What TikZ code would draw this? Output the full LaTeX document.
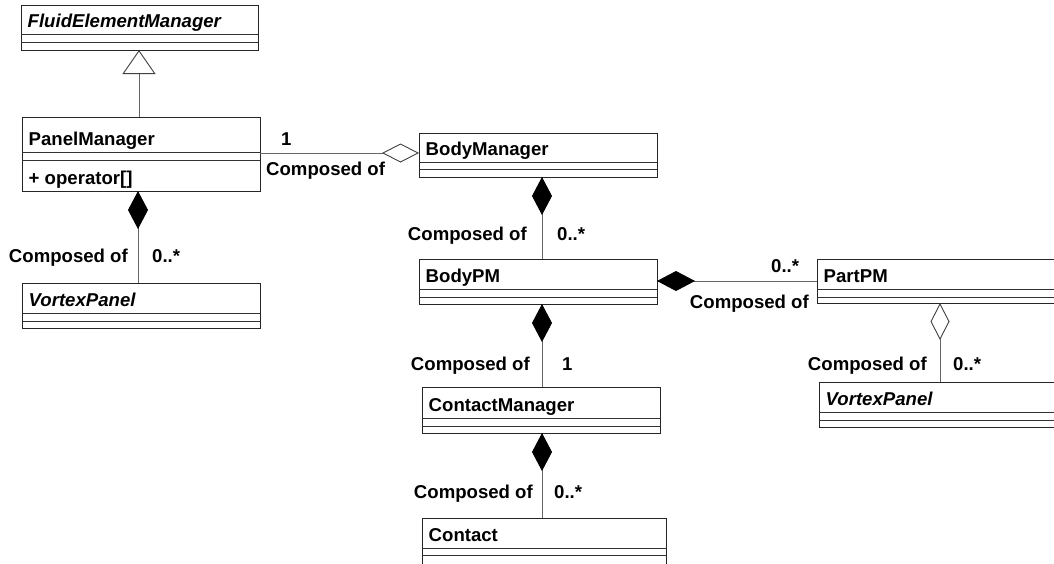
\documentclass[tikz,border=0pt]{standalone}
\usepackage{fontspec}
\setmainfont{Liberation Sans}
\usetikzlibrary{arrows.meta,calc}
\newcommand\umlfont{\fontsize{18.6}{22}\selectfont\bfseries}
% #1 id, #2 x, #3 y, #4 width, #5 shape, #6 name, #7-#9 compartment heights
\newcommand\umlclass[9]{%
  \node[classbox, minimum width=#4pt, minimum height=#7pt+#8pt+#9pt] (#1) at (#2,#3) {};
  \draw[classline] ($(#1.north west)+(0,#7)$) -- ++(#4,0);
  \draw[classline] ($(#1.north west)+(0,#7+#8)$) -- ++(#4,0);
  \node[cname, font=\umlfont#5] (#1-name) at ($(#1.north west)+(6.5,#7-7)$) {#6};
}
\begin{document}
\begin{tikzpicture}[x=1pt,y=-1pt,
  classbox/.style={draw=black!85, line width=0.9pt, fill=white, anchor=north west,
    inner sep=0pt, outer sep=0pt},
  classline/.style={draw=black!80, line width=0.9pt},
  cname/.style={anchor=base west, inner sep=0pt},
  lbl/.style={inner sep=0pt, font=\umlfont},
  link/.style={draw=black!60, line width=0.9pt},
  comp/.style={link, {Diamond[length=38pt,width=20pt,color=black,fill=black]}-},
  agg/.style={link, {Diamond[length=37pt,width=19pt,color=black!75,fill=white]}-},
  gen/.style={link, -{Triangle[length=24pt,width=33pt,color=black!75,fill=white]}},
]
\clip (0,0) rectangle (1054,563);
\fill[white] (0,0) rectangle (1054,563);

% classes
\umlclass{fem}{21}{5}{237}{\itshape}{FluidElementManager}{29}{8}{8}
\umlclass{pm}{22}{117}{238}{}{PanelManager}{35}{8}{31}
\node[cname, font=\umlfont] (pm-op) at ($(pm.north west)+(6.5,67)$) {+ operator[]};
\umlclass{vpa}{22}{283}{238}{\itshape}{VortexPanel}{30}{8}{7}
\umlclass{bm}{419}{133}{238}{}{BodyManager}{29}{7}{8}
\umlclass{bpm}{419}{259}{238}{}{BodyPM}{30}{8}{7}
\umlclass{cm}{422}{387}{238}{}{ContactManager}{31}{8}{7}
\umlclass{ct}{422}{518}{244}{}{Contact}{30}{7}{9}
\umlclass{ppm}{817}{259}{250}{}{PartPM}{30}{8}{6}
\umlclass{vpb}{819}{382}{250}{\itshape}{VortexPanel}{30}{8}{7}

% connector lanes
\coordinate (xg) at (139,0);
\coordinate (xa) at (138,0);
\coordinate (xb) at (542,0);
\coordinate (xc) at (940,0);
\coordinate (ya) at (0,153);
\coordinate (yb) at (0,281);

% relations
\draw[gen]  (pm.north -| xg) -- (fem.south -| xg);
\draw[comp] (pm.south -| xa) -- (vpa.north -| xa);
\draw[agg]  (bm.west |- ya) -- (pm.east |- ya);
\draw[comp] (bm.south -| xb) -- (bpm.north -| xb);
\draw[comp] (bpm.south -| xb) -- (cm.north -| xb);
\draw[comp] (cm.south -| xb) -- (ct.north -| xb);
\draw[comp] (bpm.east |- yb) -- (ppm.west |- yb);
\draw[agg]  (ppm.south -| xc) -- (vpb.north -| xc);

% role labels
\node[lbl, anchor=base east] (l1) at (128,262) {Composed of};
\node[lbl, anchor=base west] (m1) at (152,262) {0..*};
\node[lbl, anchor=base west] (m2) at (281,145) {1};
\node[lbl, anchor=base west] (l2) at (266,175) {Composed of};
\node[lbl, anchor=base east] (l3) at (527,240) {Composed of};
\node[lbl, anchor=base west] (m3) at (557,240) {0..*};
\node[lbl, anchor=base east] (l4) at (530,370) {Composed of};
\node[lbl, anchor=base west] (m4) at (562,370) {1};
\node[lbl, anchor=base east] (l5) at (533,498) {Composed of};
\node[lbl, anchor=base west] (m5) at (554,498) {0..*};
\node[lbl, anchor=base west] (m6) at (771,272) {0..*};
\node[lbl, anchor=base east] (l6) at (809,308) {Composed of};
\node[lbl, anchor=base east] (l7) at (927,370) {Composed of};
\node[lbl, anchor=base west] (m7) at (953,370) {0..*};
\end{tikzpicture}
\end{document}
